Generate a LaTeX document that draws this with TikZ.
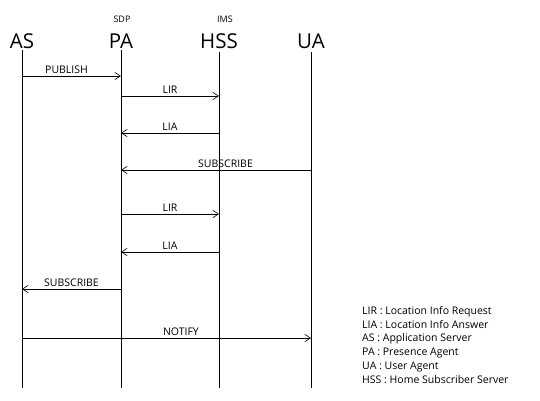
\documentclass[tikz,border=0pt]{standalone}
\usepackage{fontspec}
\setmainfont{Open Sans}
\usetikzlibrary{arrows.meta,positioning}

\begin{document}
\begin{tikzpicture}[
  x=1pt, y=-1pt,
  party/.style={font=\fontsize{20.5}{20.5}\selectfont, inner sep=0pt, anchor=base},
  realm/.style={font=\fontsize{9}{9}\selectfont, inner sep=0pt, anchor=base},
  life/.style={line width=0.9pt},
  msg/.style={-{Straight Barb[length=2mm,width=2.6mm]}, line width=0.6pt},
  lbl/.style={font=\fontsize{10.5}{10.5}\selectfont, above=1.5pt, inner sep=1pt}
]
\useasboundingbox (0,0) rectangle (540,400);
% parties
\node[party] (as) at (22,48) {AS};
\node[party] (pa) at (121,48) {PA};
\node[party] (hss) at (219,48) {HSS};
\node[party] (ua) at (311,48) {UA};
\node[realm] (sdp) at (122,22) {SDP};
\node[realm] (ims) at (225,22) {IMS};
% lifelines
\coordinate (bottom) at (0,388);
\foreach \p/\t in {as/50,pa/50,hss/52,ua/52}
  \draw[life] (\p |- 0,\t) -- (\p |- bottom);
% message rows
\foreach \r/\y in {1/76,2/96,3/133,4/170,5/214,6/252,7/289,8/338}
  \coordinate (r\r) at (0,\y);
\draw[msg] (as |- r1) -- node[lbl, pos=0.45]{PUBLISH} (pa |- r1);
\draw[msg] (pa |- r2) -- node[lbl]{LIR} (hss |- r2);
\draw[msg] (hss |- r3) -- node[lbl]{LIA} (pa |- r3);
\draw[msg] (ua |- r4) -- node[lbl, pos=0.45]{SUBSCRIBE} (pa |- r4);
\draw[msg] (pa |- r5) -- node[lbl]{LIR} (hss |- r5);
\draw[msg] (hss |- r6) -- node[lbl]{LIA} (pa |- r6);
\draw[msg] (pa |- r7) -- node[lbl]{SUBSCRIBE} (as |- r7);
\draw[msg] (as |- r8) -- node[lbl, pos=0.55]{NOTIFY} (ua |- r8);
% legend
\node[font=\fontsize{10.5}{13.8}\selectfont, align=left, anchor=north west, inner sep=0pt] (legend) at (362,306) {%
  LIR : Location Info Request\\
  LIA : Location Info Answer\\
  AS : Application Server\\
  PA : Presence Agent\\
  UA : User Agent\\
  HSS : Home Subscriber Server};
\end{tikzpicture}
\end{document}
